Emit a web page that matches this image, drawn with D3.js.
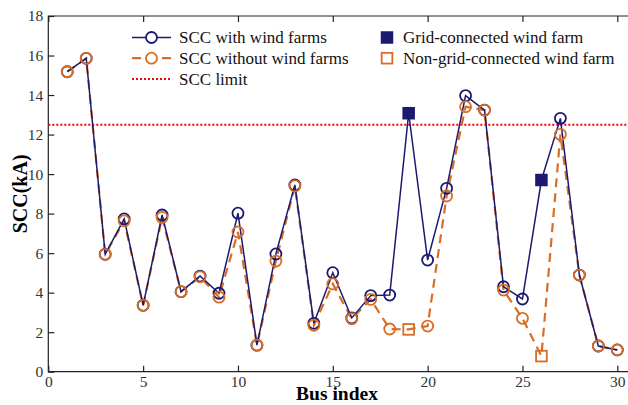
<!DOCTYPE html>
<html>
<head>
<meta charset="utf-8">
<script src="https://cdn.jsdelivr.net/npm/d3@7"></script>
<style>
  body { margin: 0; background: #fff; }
  svg, svg text { font-family: "Liberation Serif", "DejaVu Serif", "Times New Roman", Times, serif; }
</style>
</head>
<body>
<div id="chart"></div>
<script>
/* global d3 */

// bus numbers 1..30
var buses = d3.range( 1, 31 );

var sccWith = [ 15.18, 15.86, 5.94, 7.73, 3.36, 7.93, 4.05, 4.84, 3.97, 8.02,
  1.34, 5.96, 9.45, 2.45, 5.01, 2.72, 3.85, 3.88, 13.08, 5.65,
  9.28, 13.97, 13.24, 4.3, 3.68, 9.7, 12.82, 4.89, 1.3, 1.1 ];

var sccWithout = [ 15.18, 15.86, 5.94, 7.63, 3.36, 7.81, 4.05, 4.8, 3.77, 7.07,
  1.34, 5.6, 9.4, 2.35, 4.44, 2.68, 3.66, 2.16, 2.14, 2.31,
  8.89, 13.41, 13.24, 4.13, 2.7, 0.79, 12.01, 4.89, 1.3, 1.1 ];

var gridConnected = [ 19, 26 ];   // buses with grid-connected wind farm
var sccLimit = 12.5;

var xTicks = [ 0, 5, 10, 15, 20, 25, 30 ];
var yTicks = [ 0, 2, 4, 6, 8, 10, 12, 14, 16, 18 ];

var navy = "#1b1a6f",
  orange = "#d96d24",
  red = "#ff0000";

var serif = "Liberation Serif";

var width = 628, height = 405;

var svg = d3.select( "#chart" ).append( "svg" )
  .attr( "width", width )
  .attr( "height", height )
  .attr( "font-family", serif );

// x axis runs a bit past 30, the figure is cut on the right
var x = d3.scaleLinear().domain( [ 0, 30 ] ).range( [ 48.3, 617.3 ] );
var y = d3.scaleLinear().domain( [ 0, 18 ] ).range( [ 371.7, 16 ] );

var g = svg.append( "g" );

// frame: left, top, bottom
var xEnd = 640;
g.append( "path" )
  .attr( "d", "M" + xEnd + "," + y( 18 ) + "H" + x( 0 ) + "V" + y( 0 ) + "H" + xEnd )
  .attr( "fill", "none" )
  .attr( "stroke", "#222" )
  .attr( "stroke-width", 1.2 );

var tickLen = 6;

// bottom axis
var xAxis = g.append( "g" )
  .attr( "transform", "translate(0," + y( 0 ) + ")" )
  .call( d3.axisBottom( x ).tickValues( xTicks ).tickSize( -tickLen ).tickPadding( 4 ) );
// left axis
var yAxis = g.append( "g" )
  .attr( "transform", "translate(" + x( 0 ) + ",0)" )
  .call( d3.axisLeft( y ).tickValues( yTicks ).tickSize( -tickLen ).tickPadding( 5 ) );
// top axis ticks only
var topAxis = g.append( "g" )
  .attr( "transform", "translate(0," + y( 18 ) + ")" )
  .call( d3.axisTop( x ).tickValues( xTicks ).tickSize( -tickLen ).tickFormat( "" ) );

[ xAxis, yAxis, topAxis ].forEach( function( a ) {
  a.attr( "font-family", serif ).attr( "font-size", 15.5 );
  a.select( ".domain" ).remove();
  a.selectAll( "line" ).attr( "stroke", "#222" ).attr( "stroke-width", 1.2 );
  a.selectAll( "text" ).attr( "fill", "#333" );
} );

// axis titles
svg.append( "text" )
  .attr( "x", 337 )
  .attr( "y", 400 )
  .attr( "text-anchor", "middle" )
  .attr( "font-size", 19.5 )
  .attr( "font-weight", "bold" )
  .text( "Bus index" );

svg.append( "text" )
  .attr( "transform", "translate(27," + y( 9 ) + ") rotate(-90)" )
  .attr( "text-anchor", "middle" )
  .attr( "font-size", 20 )
  .attr( "font-weight", "bold" )
  .text( "SCC(kA)" );

// SCC limit
g.append( "line" )
  .attr( "x1", x( 0 ) )
  .attr( "x2", xEnd )
  .attr( "y1", y( sccLimit ) )
  .attr( "y2", y( sccLimit ) )
  .attr( "stroke", red )
  .attr( "stroke-width", 2 )
  .attr( "stroke-dasharray", "2,2" );

var line = d3.line()
  .x( function( d ) { return x( d[ 0 ] ); } )
  .y( function( d ) { return y( d[ 1 ] ); } );

var withData = buses.map( function( b, i ) { return [ b, sccWith[ i ] ]; } );
var withoutData = buses.map( function( b, i ) { return [ b, sccWithout[ i ] ]; } );

// series without wind farms (orange, dashed)
g.append( "path" )
  .datum( withoutData )
  .attr( "d", line )
  .attr( "fill", "none" )
  .attr( "stroke", orange )
  .attr( "stroke-width", 2.2 )
  .attr( "stroke-dasharray", "9,6" );

// series with wind farms (navy, solid)
g.append( "path" )
  .datum( withData )
  .attr( "d", line )
  .attr( "fill", "none" )
  .attr( "stroke", navy )
  .attr( "stroke-width", 1.5 );

var r = 5.5, sq = 12.5;

function isGrid( d ) { return gridConnected.indexOf( d[ 0 ] ) >= 0; }

// navy markers
g.selectAll( ".mWith" )
  .data( withData.filter( function( d ) { return !isGrid( d ); } ) )
  .enter().append( "circle" )
    .attr( "class", "mWith" )
    .attr( "cx", function( d ) { return x( d[ 0 ] ); } )
    .attr( "cy", function( d ) { return y( d[ 1 ] ); } )
    .attr( "r", r )
    .attr( "fill", "none" )
    .attr( "stroke", navy )
    .attr( "stroke-width", 1.8 );

g.selectAll( ".sqWith" )
  .data( withData.filter( isGrid ) )
  .enter().append( "rect" )
    .attr( "class", "sqWith" )
    .attr( "x", function( d ) { return x( d[ 0 ] ) - sq / 2; } )
    .attr( "y", function( d ) { return y( d[ 1 ] ) - sq / 2; } )
    .attr( "width", sq )
    .attr( "height", sq )
    .attr( "fill", navy );

// orange markers
g.selectAll( ".mWithout" )
  .data( withoutData.filter( function( d ) { return !isGrid( d ); } ) )
  .enter().append( "circle" )
    .attr( "class", "mWithout" )
    .attr( "cx", function( d ) { return x( d[ 0 ] ); } )
    .attr( "cy", function( d ) { return y( d[ 1 ] ); } )
    .attr( "r", r )
    .attr( "fill", "none" )
    .attr( "stroke", orange )
    .attr( "stroke-width", 1.8 );

g.selectAll( ".sqWithout" )
  .data( withoutData.filter( isGrid ) )
  .enter().append( "rect" )
    .attr( "class", "sqWithout" )
    .attr( "x", function( d ) { return x( d[ 0 ] ) - sq / 2 + 0.9; } )
    .attr( "y", function( d ) { return y( d[ 1 ] ) - sq / 2 + 0.9; } )
    .attr( "width", sq - 1.8 )
    .attr( "height", sq - 1.8 )
    .attr( "fill", "none" )
    .attr( "stroke", orange )
    .attr( "stroke-width", 1.8 );

// legend
var leg = svg.append( "g" ).attr( "font-size", 17 );

var legLines = [
  { label: "SCC with wind farms", color: navy, dash: null, w: 1.5, marker: true },
  { label: "SCC without wind farms", color: orange, dash: "9,6", w: 2.2, marker: true },
  { label: "SCC limit", color: red, dash: "2,2", w: 2, marker: false }
];

legLines.forEach( function( d, i ) {
  var yy = 37.5 + i * 20.7;
  leg.append( "line" )
    .attr( "x1", 132 ).attr( "x2", 171 )
    .attr( "y1", yy ).attr( "y2", yy )
    .attr( "stroke", d.color )
    .attr( "stroke-width", d.w )
    .attr( "stroke-dasharray", d.dash );
  if ( d.marker ) {
    leg.append( "circle" )
      .attr( "cx", 151.5 ).attr( "cy", yy )
      .attr( "r", r )
      .attr( "fill", "#fff" )
      .attr( "stroke", d.color )
      .attr( "stroke-width", 1.8 );
  }
  leg.append( "text" )
    .attr( "x", 179 ).attr( "y", yy )
    .attr( "dy", "0.33em" )
    .attr( "fill", "#111" )
    .text( d.label );
} );

var legSquares = [
  { label: "Grid-connected wind farm", filled: true },
  { label: "Non-grid-connected wind farm", filled: false }
];

legSquares.forEach( function( d, i ) {
  var yy = 37.5 + i * 20.7;
  leg.append( "rect" )
    .attr( "x", 387 - sq / 2 + ( d.filled ? 0 : 0.9 ) )
    .attr( "y", yy - sq / 2 + ( d.filled ? 0 : 0.9 ) )
    .attr( "width", d.filled ? sq : sq - 1.8 )
    .attr( "height", d.filled ? sq : sq - 1.8 )
    .attr( "fill", d.filled ? navy : "none" )
    .attr( "stroke", d.filled ? "none" : orange )
    .attr( "stroke-width", 1.8 );
  leg.append( "text" )
    .attr( "x", 403 ).attr( "y", yy )
    .attr( "dy", "0.33em" )
    .attr( "fill", "#111" )
    .text( d.label );
} );
</script>
</body>
</html>
